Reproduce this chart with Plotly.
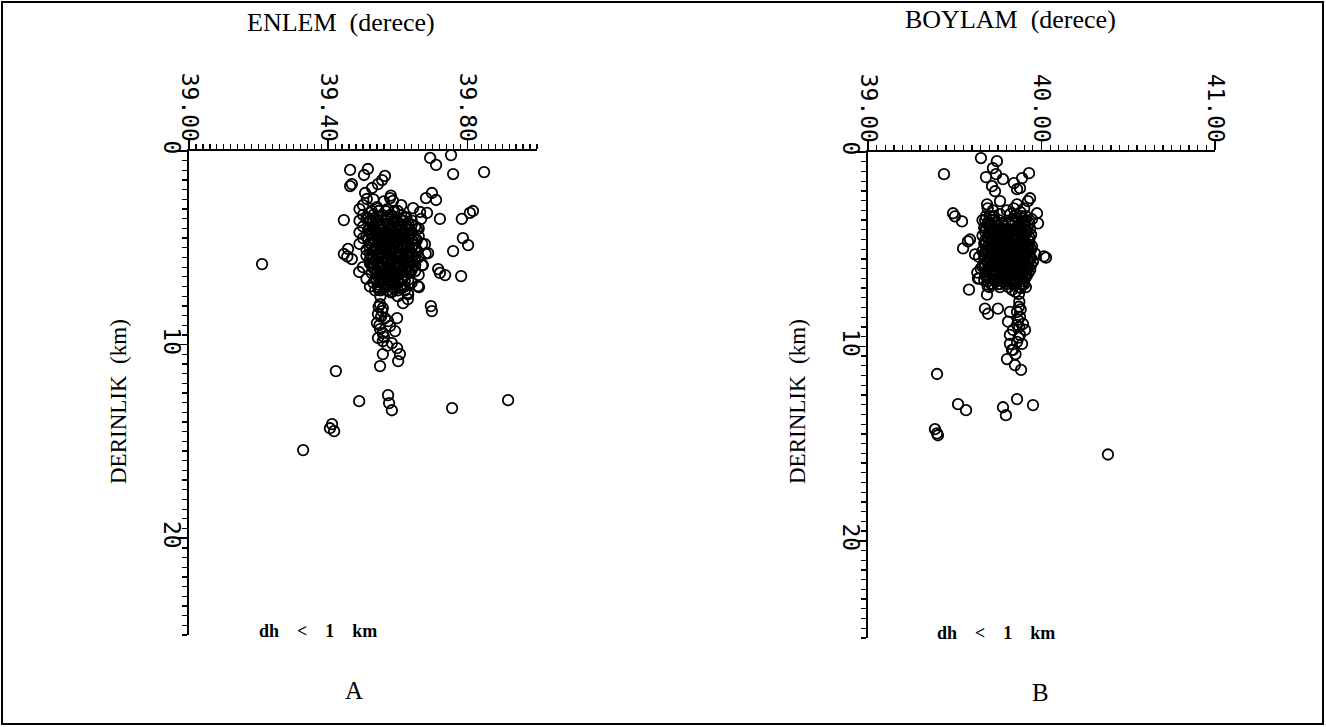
import plotly.graph_objects as go

# ---- data: (latitude deg, depth km) for panel A ----
enlem_derinlik = [
    (39.693, 0.36), (39.710, 0.72), (39.753, 0.21), (39.759, 1.19), (39.848, 1.09),
    (39.463, 0.98), (39.514, 0.93), (39.503, 1.24), (39.563, 1.29), (39.555, 1.50),
    (39.543, 1.71), (39.526, 1.91), (39.463, 1.81), (39.468, 1.71), (39.506, 2.17),
    (39.511, 2.48), (39.578, 2.43), (39.586, 2.58), (39.698, 2.17), (39.681, 2.43),
    (39.710, 2.53), (39.644, 2.95), (39.664, 3.15), (39.684, 3.20), (39.667, 3.51),
    (39.721, 3.51), (39.784, 3.51), (39.807, 3.20), (39.816, 3.10), (39.445, 3.57),
    (39.787, 4.50), (39.802, 4.86), (39.759, 5.17), (39.678, 4.81), (39.687, 5.27),
    (39.672, 5.89), (39.716, 6.10), (39.721, 6.30), (39.736, 6.41), (39.782, 6.46),
    (39.210, 5.84), (39.445, 5.32), (39.457, 5.06), (39.468, 5.58), (39.489, 6.25),
    (39.455, 5.45), (39.695, 8.01), (39.698, 8.27), (39.615, 7.86), (39.629, 7.65),
    (39.661, 7.03), (39.545, 7.15), (39.585, 7.25), (39.629, 7.33), (39.658, 6.98),
    (39.422, 11.37), (39.489, 12.92), (39.572, 12.61), (39.575, 13.02), (39.583, 13.39),
    (39.756, 13.28), (39.917, 12.87), (39.411, 14.11), (39.405, 14.32), (39.417, 14.47),
    (39.328, 15.45),
    # column below the cluster
    (39.549, 7.91), (39.557, 8.11), (39.543, 8.42), (39.563, 8.63), (39.540, 8.89),
    (39.572, 8.79), (39.598, 8.63), (39.549, 9.20), (39.557, 9.41), (39.592, 9.30),
    (39.543, 9.66), (39.557, 9.82), (39.583, 9.92), (39.598, 10.18), (39.606, 10.49),
    (39.557, 10.49), (39.549, 11.11), (39.601, 10.85), (39.578, 9.04), (39.555, 8.27),
    (39.545, 8.05), (39.552, 8.55), (39.547, 9.00), (39.560, 9.60), (39.570, 10.05),
]

# dense core of panel A cluster
enlem_cekirdek = [
    (39.49, 3.0), (39.50, 3.3), (39.49, 3.6), (39.50, 3.9), (39.49, 4.2), (39.50, 4.5),
    (39.49, 4.8), (39.51, 5.1), (39.50, 2.8), (39.51, 3.5),
    (39.52, 3.2), (39.53, 3.6), (39.52, 4.0), (39.54, 4.3), (39.53, 4.7), (39.52, 5.0),
    (39.54, 5.4), (39.53, 5.8), (39.55, 3.4), (39.56, 3.8), (39.55, 4.1), (39.57, 4.5),
    (39.56, 4.9), (39.55, 5.2), (39.57, 5.6), (39.56, 6.0), (39.58, 3.3), (39.59, 3.7),
    (39.58, 4.0), (39.60, 4.4), (39.59, 4.8), (39.58, 5.1), (39.60, 5.5), (39.59, 5.9),
    (39.61, 3.6), (39.62, 4.0), (39.61, 4.3), (39.63, 4.7), (39.62, 5.0), (39.61, 5.4),
    (39.63, 5.7), (39.62, 6.1), (39.64, 4.2), (39.64, 4.6), (39.65, 5.0), (39.64, 5.3),
    (39.65, 5.7), (39.63, 6.3), (39.60, 6.4), (39.57, 6.5), (39.54, 6.3), (39.56, 6.8),
    (39.59, 6.9), (39.62, 6.7), (39.55, 7.2), (39.58, 7.3), (39.61, 7.1), (39.53, 6.0),
    (39.60, 3.1), (39.57, 3.0), (39.54, 2.9), (39.61, 2.8), (39.56, 2.6), (39.58, 2.3),
    (39.53, 2.5), (39.66, 4.0), (39.66, 4.4), (39.67, 4.8), (39.66, 5.5), (39.67, 5.9),
    (39.68, 5.3), (39.64, 6.0), (39.66, 6.4), (39.64, 6.8), (39.63, 7.4), (39.60, 7.5),
    (39.55, 7.5), (39.52, 7.0), (39.51, 6.6), (39.52, 5.6), (39.51, 4.4), (39.53, 3.9),
    (39.55, 4.6), (39.57, 4.2), (39.59, 5.3), (39.61, 4.9), (39.63, 5.2), (39.58, 5.7),
    (39.56, 5.5), (39.54, 5.0), (39.60, 6.0), (39.62, 5.6), (39.57, 6.2), (39.59, 6.4),
    (39.55, 5.9), (39.61, 6.6), (39.63, 4.4), (39.58, 4.6), (39.60, 4.1), (39.56, 4.3),
    (39.54, 3.6), (39.62, 3.4), (39.64, 3.8), (39.65, 6.2), (39.58, 6.7), (39.53, 6.8),
    (39.57, 7.0), (39.62, 7.0), (39.50, 6.0), (39.51, 5.4),
    (39.525, 3.10), (39.545, 3.10), (39.565, 3.10), (39.590, 3.10),
    (39.515, 3.45), (39.535, 3.45), (39.570, 3.45), (39.595, 3.45), (39.625, 3.45),
    (39.525, 3.75), (39.545, 3.75), (39.575, 3.75), (39.605, 3.75), (39.630, 3.75),
    (39.515, 4.05), (39.535, 4.05), (39.555, 4.05), (39.585, 4.05), (39.610, 4.05),
    (39.635, 4.05), (39.655, 4.05),
    (39.525, 4.35), (39.545, 4.35), (39.570, 4.35), (39.595, 4.35), (39.620, 4.35),
    (39.645, 4.35),
    (39.515, 4.60), (39.535, 4.60), (39.560, 4.60), (39.590, 4.60), (39.615, 4.60),
    (39.640, 4.60), (39.655, 4.60),
    (39.525, 4.85), (39.550, 4.85), (39.575, 4.85), (39.600, 4.85), (39.625, 4.85),
    (39.645, 4.85),
    (39.530, 5.15), (39.560, 5.15), (39.585, 5.15), (39.605, 5.15), (39.635, 5.15),
    (39.655, 5.15),
    (39.525, 5.40), (39.550, 5.40), (39.575, 5.40), (39.595, 5.40), (39.625, 5.40),
    (39.645, 5.40),
    (39.535, 5.65), (39.565, 5.65), (39.590, 5.65), (39.615, 5.65), (39.640, 5.65),
    (39.525, 5.90), (39.545, 5.90), (39.575, 5.90), (39.605, 5.90), (39.630, 5.90),
    (39.650, 5.90),
    (39.535, 6.15), (39.560, 6.15), (39.585, 6.15), (39.610, 6.15), (39.640, 6.15),
    (39.545, 6.40), (39.565, 6.40), (39.595, 6.40), (39.620, 6.40),
    (39.535, 6.65), (39.555, 6.65), (39.575, 6.65), (39.600, 6.65), (39.630, 6.65),
    (39.545, 6.90), (39.570, 6.90), (39.610, 6.90),
    (39.535, 7.20), (39.570, 7.20), (39.600, 7.20), (39.620, 7.20),
    (39.530, 3.30), (39.555, 3.30), (39.580, 3.30), (39.610, 3.30),
    (39.520, 3.60), (39.545, 3.60), (39.565, 3.60), (39.590, 3.60), (39.615, 3.60), (39.640, 3.60),
    (39.530, 3.90), (39.550, 3.90), (39.575, 3.90), (39.600, 3.90), (39.625, 3.90), (39.650, 3.90),
    (39.520, 4.20), (39.545, 4.20), (39.565, 4.20), (39.590, 4.20), (39.615, 4.20), (39.640, 4.20),
    (39.530, 4.50), (39.555, 4.50), (39.580, 4.50), (39.605, 4.50), (39.630, 4.50), (39.650, 4.50),
    (39.520, 4.75), (39.545, 4.75), (39.570, 4.75), (39.595, 4.75), (39.620, 4.75),
    (39.535, 5.00), (39.565, 5.00), (39.590, 5.00), (39.615, 5.00), (39.640, 5.00),
    (39.520, 5.30), (39.545, 5.30), (39.570, 5.30), (39.600, 5.30), (39.625, 5.30),
    (39.530, 5.55), (39.555, 5.55), (39.580, 5.55), (39.605, 5.55), (39.630, 5.55), (39.650, 5.55),
    (39.520, 5.80), (39.545, 5.80), (39.570, 5.80), (39.595, 5.80), (39.620, 5.80), (39.640, 5.80),
    (39.530, 6.05), (39.555, 6.05), (39.580, 6.05), (39.600, 6.05), (39.625, 6.05),
    (39.525, 6.30), (39.550, 6.30), (39.575, 6.30), (39.605, 6.30), (39.635, 6.30),
    (39.545, 6.55), (39.570, 6.55), (39.590, 6.55), (39.615, 6.55),
    (39.550, 6.80), (39.580, 6.80), (39.600, 6.80),
    (39.545, 7.05), (39.585, 7.05),
]

# ---- data: (longitude deg, depth km) for panel B ----
boylam_derinlik = [
    (39.651, 0.31), (39.743, 0.47), (39.720, 0.83), (39.738, 1.14), (39.438, 1.14),
    (39.680, 1.29), (39.778, 1.40), (39.928, 1.09), (39.888, 1.34), (39.841, 1.60),
    (39.859, 1.91), (39.876, 1.86), (39.715, 1.76), (39.732, 2.02), (39.934, 2.38),
    (39.922, 2.53), (39.761, 2.53), (39.686, 2.69), (39.859, 2.69), (39.974, 3.15),
    (39.980, 3.67), (39.945, 3.46), (39.490, 3.15), (39.501, 3.31), (39.542, 3.57),
    (39.588, 4.50), (39.576, 4.60), (39.548, 4.96), (39.617, 5.27), (39.963, 5.22),
    (40.014, 5.37), (40.026, 5.43), (39.951, 5.63), (39.634, 6.51), (39.582, 7.08),
    (39.686, 7.34), (39.674, 8.06), (39.692, 8.32), (39.749, 8.06),
    (39.398, 11.42), (39.519, 12.97), (39.565, 13.28), (39.778, 13.13), (39.795, 13.54),
    (39.859, 12.71), (39.951, 13.02), (39.386, 14.26), (39.398, 14.47), (39.403, 14.57),
    (40.383, 15.56),
    # column below the cluster
    (39.870, 7.96), (39.859, 8.22), (39.876, 8.48), (39.818, 8.22), (39.807, 8.73),
    (39.893, 8.84), (39.859, 8.89), (39.836, 9.15), (39.905, 9.15), (39.818, 9.41),
    (39.876, 9.41), (39.859, 9.77), (39.888, 9.87), (39.818, 9.87), (39.836, 10.18),
    (39.801, 10.65), (39.847, 10.96), (39.882, 11.21), (39.865, 8.63), (39.830, 10.18),
    (39.872, 7.70), (39.880, 8.10), (39.872, 9.00), (39.868, 9.55), (39.850, 10.40),
]

# dense core of panel B cluster
boylam_cekirdek = [
    (39.66, 3.5), (39.67, 3.9), (39.66, 4.3), (39.68, 4.7), (39.66, 5.1), (39.67, 5.5),
    (39.66, 5.9), (39.68, 6.3), (39.67, 6.6), (39.70, 3.3), (39.71, 3.7), (39.70, 4.1),
    (39.72, 4.5), (39.71, 4.9), (39.70, 5.3), (39.72, 5.7), (39.71, 6.1), (39.70, 6.5),
    (39.74, 3.6), (39.75, 4.0), (39.74, 4.4), (39.76, 4.8), (39.75, 5.2), (39.74, 5.6),
    (39.76, 6.0), (39.75, 6.4), (39.78, 4.2), (39.79, 4.6), (39.78, 5.0), (39.80, 5.4),
    (39.79, 5.8), (39.78, 6.2), (39.80, 6.6), (39.82, 3.2), (39.83, 3.6), (39.82, 4.0),
    (39.84, 4.4), (39.83, 4.8), (39.82, 5.2), (39.84, 5.6), (39.83, 6.0), (39.82, 6.4),
    (39.84, 6.8), (39.86, 3.4), (39.87, 3.8), (39.86, 4.2), (39.88, 4.6), (39.87, 5.0),
    (39.86, 5.4), (39.88, 5.8), (39.87, 6.2), (39.86, 6.6), (39.88, 7.0), (39.90, 3.6),
    (39.91, 4.0), (39.90, 4.4), (39.92, 4.8), (39.91, 5.2), (39.90, 5.6), (39.92, 6.0),
    (39.91, 6.4), (39.90, 6.8), (39.93, 4.6), (39.94, 5.0), (39.93, 5.4), (39.94, 5.8),
    (39.92, 3.9), (39.85, 7.2), (39.83, 7.1), (39.87, 7.3), (39.72, 6.8), (39.69, 6.9),
    (39.75, 6.8), (39.78, 6.7), (39.64, 5.4), (39.65, 6.0), (39.64, 6.5), (39.63, 6.2),
    (39.69, 2.9), (39.72, 3.0), (39.76, 3.2), (39.80, 3.0), (39.84, 2.9), (39.88, 3.1),
    (39.90, 2.9), (39.73, 4.2), (39.77, 4.5), (39.81, 4.6), (39.85, 5.0), (39.89, 5.2),
    (39.69, 5.0), (39.73, 5.4), (39.77, 5.8), (39.81, 6.0), (39.85, 6.2), (39.89, 6.4),
    (39.69, 5.7), (39.73, 6.1), (39.77, 6.3), (39.81, 5.5),
    (39.680, 3.30), (39.725, 3.30), (39.845, 3.30), (39.885, 3.30), (39.910, 3.30),
    (39.690, 3.65), (39.730, 3.65), (39.770, 3.65), (39.810, 3.65), (39.850, 3.65),
    (39.895, 3.65), (39.930, 3.65),
    (39.680, 3.95), (39.720, 3.95), (39.760, 3.95), (39.800, 3.95), (39.845, 3.95),
    (39.885, 3.95), (39.935, 3.95),
    (39.695, 4.25), (39.740, 4.25), (39.780, 4.25), (39.820, 4.25), (39.865, 4.25),
    (39.905, 4.25), (39.940, 4.25),
    (39.675, 4.55), (39.715, 4.55), (39.755, 4.55), (39.800, 4.55), (39.840, 4.55),
    (39.885, 4.55), (39.925, 4.55),
    (39.690, 4.85), (39.730, 4.85), (39.770, 4.85), (39.815, 4.85), (39.855, 4.85),
    (39.900, 4.85), (39.945, 4.85),
    (39.675, 5.15), (39.720, 5.15), (39.760, 5.15), (39.795, 5.15), (39.835, 5.15),
    (39.875, 5.15), (39.920, 5.15),
    (39.690, 5.45), (39.735, 5.45), (39.775, 5.45), (39.820, 5.45), (39.860, 5.45),
    (39.900, 5.45), (39.940, 5.45),
    (39.675, 5.75), (39.715, 5.75), (39.755, 5.75), (39.795, 5.75), (39.845, 5.75),
    (39.885, 5.75), (39.925, 5.75),
    (39.690, 6.05), (39.730, 6.05), (39.770, 6.05), (39.810, 6.05), (39.855, 6.05),
    (39.895, 6.05), (39.935, 6.05),
    (39.675, 6.35), (39.720, 6.35), (39.760, 6.35), (39.800, 6.35), (39.840, 6.35),
    (39.880, 6.35), (39.915, 6.35),
    (39.690, 6.65), (39.735, 6.65), (39.775, 6.65), (39.820, 6.65), (39.860, 6.65),
    (39.895, 6.65),
    (39.700, 6.95), (39.760, 6.95), (39.810, 6.95), (39.870, 6.95), (39.910, 6.95),
    (39.675, 3.50), (39.715, 3.50), (39.755, 3.50), (39.830, 3.50), (39.870, 3.50), (39.910, 3.50),
    (39.695, 3.80), (39.740, 3.80), (39.780, 3.80), (39.825, 3.80), (39.865, 3.80), (39.905, 3.80),
    (39.675, 4.10), (39.715, 4.10), (39.755, 4.10), (39.795, 4.10), (39.835, 4.10), (39.875, 4.10),
    (39.915, 4.10),
    (39.690, 4.40), (39.730, 4.40), (39.770, 4.40), (39.810, 4.40), (39.850, 4.40), (39.890, 4.40),
    (39.930, 4.40),
    (39.670, 4.70), (39.710, 4.70), (39.750, 4.70), (39.790, 4.70), (39.830, 4.70), (39.870, 4.70),
    (39.910, 4.70),
    (39.685, 5.00), (39.725, 5.00), (39.765, 5.00), (39.805, 5.00), (39.845, 5.00), (39.885, 5.00),
    (39.925, 5.00),
    (39.670, 5.30), (39.710, 5.30), (39.750, 5.30), (39.790, 5.30), (39.830, 5.30), (39.870, 5.30),
    (39.910, 5.30),
    (39.685, 5.60), (39.725, 5.60), (39.765, 5.60), (39.805, 5.60), (39.845, 5.60), (39.885, 5.60),
    (39.925, 5.60),
    (39.670, 5.90), (39.710, 5.90), (39.750, 5.90), (39.790, 5.90), (39.830, 5.90), (39.870, 5.90),
    (39.910, 5.90),
    (39.685, 6.20), (39.725, 6.20), (39.765, 6.20), (39.805, 6.20), (39.845, 6.20), (39.885, 6.20),
    (39.925, 6.20),
    (39.695, 6.50), (39.740, 6.50), (39.780, 6.50), (39.825, 6.50), (39.870, 6.50), (39.905, 6.50),
    (39.710, 6.80), (39.760, 6.80), (39.800, 6.80), (39.850, 6.80), (39.890, 6.80),
]

EM = "\u2002"
x_titles = ["ENLEM" + EM + "(derece)", "BOYLAM" + EM + "(derece)"]
y_title = "DERINLIK" + EM + "(km)"
note_text = (EM * 2).join(["dh", "<", "1", "km"])
panel_letters = ["A", "B"]

W, H = 1326, 727
SERIF = "Liberation Serif, Times New Roman, serif"
MONO = "DejaVu Sans Mono, monospace"

fig = go.Figure()

marker = dict(symbol="circle-open", size=10.5, color="black", line=dict(width=1.8, color="black"))
pts_a = enlem_derinlik + enlem_cekirdek
pts_b = boylam_derinlik + boylam_cekirdek
fig.add_trace(go.Scatter(x=[p[0] for p in pts_a], y=[p[1] for p in pts_a],
                         mode="markers", marker=marker, xaxis="x", yaxis="y",
                         cliponaxis=False, showlegend=False))
fig.add_trace(go.Scatter(x=[p[0] for p in pts_b], y=[p[1] for p in pts_b],
                         mode="markers", marker=marker, xaxis="x2", yaxis="y2",
                         cliponaxis=False, showlegend=False))

def px_x(p):
    return p / W

def px_y(p):
    return 1 - p / H

common_x = dict(side="top", showline=True, linecolor="black", linewidth=2, showgrid=False,
                zeroline=False, ticks="outside", ticklen=9, tickwidth=1.5, tickcolor="black",
                tickangle=90, tickfont=dict(family=MONO, size=23, color="black"),
                ticklabelstandoff=-10, automargin=False)
common_y = dict(showline=True, linecolor="black", linewidth=2, showgrid=False, zeroline=False,
                ticks="outside", ticklen=9, tickwidth=1.5, tickcolor="black", tickangle=90,
                tickfont=dict(family=MONO, size=23, color="black"), automargin=False,
                ticklabelstandoff=-14,
                range=[25, 0], tick0=0, dtick=10,
                minor=dict(dtick=0.5, ticks="outside", ticklen=5, tickwidth=1.3, tickcolor="black"))

fig.update_layout(
    width=W, height=H,
    margin=dict(l=0, r=0, t=0, b=0),
    paper_bgcolor="white", plot_bgcolor="white",
    xaxis=dict(common_x, domain=[px_x(189), px_x(537)], range=[39.0, 40.0], tick0=39.0,
               dtick=0.4, tickformat=".2f", anchor="y",
               minor=dict(dtick=0.02, ticks="outside", ticklen=5, tickwidth=1.3, tickcolor="black")),
    yaxis=dict(common_y, domain=[px_y(635), px_y(151)], anchor="x"),
    xaxis2=dict(common_x, domain=[px_x(868), px_x(1215)], range=[39.0, 41.0], tick0=39.0,
                dtick=1.0, tickformat=".2f", anchor="y2",
                minor=dict(dtick=0.05, ticks="outside", ticklen=5, tickwidth=1.3, tickcolor="black")),
    yaxis2=dict(common_y, domain=[px_y(638), px_y(152)], anchor="x2"),
)

annotations = []
for i, (cx, ycen) in enumerate([(341, 22), (1010, 20)]):
    annotations.append(dict(text=x_titles[i], x=px_x(cx), y=px_y(ycen), xref="paper", yref="paper",
                            showarrow=False, xanchor="center", yanchor="middle",
                            font=dict(family=SERIF, size=26, color="black")))
for cx in [118, 797]:
    annotations.append(dict(text=y_title, x=px_x(cx), y=px_y(402), xref="paper", yref="paper",
                            showarrow=False, textangle=-90, xanchor="center", yanchor="middle",
                            font=dict(family=SERIF, size=23, color="black")))
for cx, cy in [(318, 631), (996, 633)]:
    annotations.append(dict(text="<b>" + note_text + "</b>", x=px_x(cx), y=px_y(cy), xref="paper",
                            yref="paper", showarrow=False, xanchor="center", yanchor="middle",
                            font=dict(family=SERIF, size=18, color="black")))
for letter, cx, cy in [(panel_letters[0], 354, 690), (panel_letters[1], 1040, 692)]:
    annotations.append(dict(text=letter, x=px_x(cx), y=px_y(cy), xref="paper", yref="paper",
                            showarrow=False, xanchor="center", yanchor="middle",
                            font=dict(family=SERIF, size=25, color="black")))
fig.update_layout(annotations=annotations)

fig.add_shape(type="rect", xref="paper", yref="paper",
              x0=px_x(2), x1=px_x(1323), y0=px_y(724), y1=px_y(2),
              line=dict(color="black", width=2), fillcolor="rgba(0,0,0,0)")

fig.write_html("out.html", config={"displayModeBar": False, "staticPlot": True},
               post_script="document.body.style.margin='0px';document.body.style.overflow='hidden';")
